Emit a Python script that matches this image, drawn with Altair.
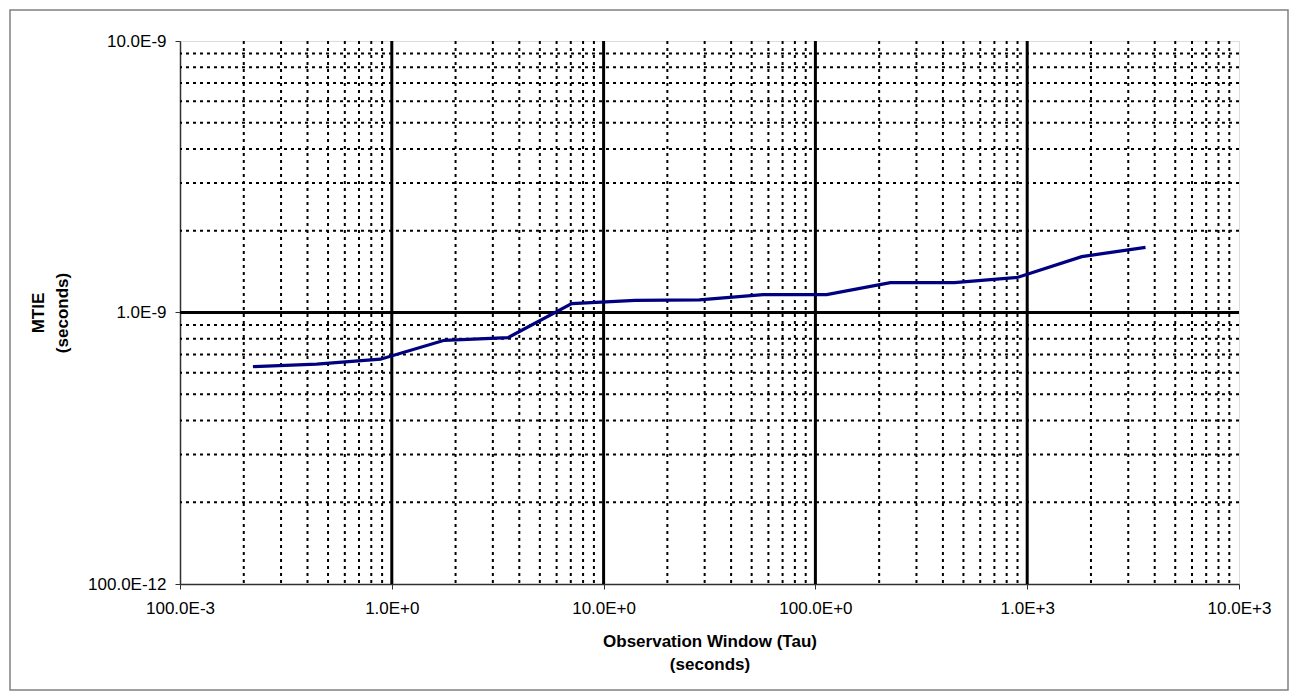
import json
import altair as alt
import pandas as pd

# ---- data ----
tau_s = [0.221, 0.442, 0.884, 1.77, 3.54, 7.07, 14.1, 28.3, 56.6, 113, 226, 453, 905, 1810, 3620]
mtie_ns = [0.632, 0.645, 0.673, 0.790, 0.808, 1.078, 1.108, 1.113, 1.163, 1.163,
           1.288, 1.288, 1.348, 1.606, 1.738]

x_decades = [0.1, 1, 10, 100, 1000, 10000]
y_decades = [1e-10, 1e-9, 1e-8]
x_labels = ["100.0E-3", "1.0E+0", "10.0E+0", "100.0E+0", "1.0E+3", "10.0E+3"]
y_labels = ["100.0E-12", "1.0E-9", "10.0E-9"]
minor_mult = [2, 3, 4, 5, 6, 7, 8, 9]

x_major_grid = [1, 10, 100, 1000]
y_major_grid = [1e-9]

# ---- tables ----
line_df = pd.DataFrame({"tau": tau_s, "mtie": [v * 1e-9 for v in mtie_ns]})
xminor_df = pd.DataFrame({"tau": [m * d for d in x_decades[:-1] for m in minor_mult]})
yminor_df = pd.DataFrame({"mtie": [m * d for d in y_decades[:-1] for m in minor_mult]})
xmajor_df = pd.DataFrame({"tau": x_major_grid})
ymajor_df = pd.DataFrame({"mtie": y_major_grid})

FONT = "Liberation Sans"
W, H = 1059, 543

xscale = alt.Scale(type="log", domain=[x_decades[0], x_decades[-1]], nice=False)
yscale = alt.Scale(type="log", domain=[y_decades[0], y_decades[-1]], nice=False)

xaxis = alt.Axis(
    values=x_decades,
    labelExpr=f"{json.dumps(x_labels)}[round(log(datum.value)/LN10)+1]",
    grid=False, tickSize=5, labelPadding=11, tickColor="#303030",
    domainColor="#303030", domainWidth=1.5, labelFontSize=17, labelFont=FONT,
    labelColor="black", titleFont=FONT, titleFontSize=17, titleFontWeight="bold",
    titleColor="black", titlePadding=17, titleLineHeight=23, labelFlush=False,
)
yaxis = alt.Axis(
    values=y_decades,
    labelExpr=f"{json.dumps(y_labels)}[round(log(datum.value)/LN10)+10]",
    grid=False, tickSize=5, labelPadding=9, tickColor="#303030",
    domainColor="#303030", domainWidth=1.5, labelFontSize=17, labelFont=FONT,
    labelColor="black", titleFont=FONT, titleFontSize=17, titleFontWeight="bold",
    titleColor="black", titlePadding=16, titleLineHeight=24, labelFlush=False,
)

X_TITLE = ["Observation Window (Tau)", "(seconds)"]
Y_TITLE = ["MTIE", "(seconds)"]


def xenc():
    return alt.X("tau:Q", scale=xscale, axis=xaxis, title=X_TITLE)


def yenc():
    return alt.Y("mtie:Q", scale=yscale, axis=yaxis, title=Y_TITLE)


xminor = alt.Chart(xminor_df).mark_rule(color="black", strokeWidth=2, strokeDash=[3, 4]).encode(x=xenc())
yminor = alt.Chart(yminor_df).mark_rule(color="black", strokeWidth=2, strokeDash=[3, 4]).encode(y=yenc())
xmajor = alt.Chart(xmajor_df).mark_rule(color="black", strokeWidth=3).encode(x=xenc())
ymajor = alt.Chart(ymajor_df).mark_rule(color="black", strokeWidth=3).encode(y=yenc())
line = alt.Chart(line_df).mark_line(color="#000080", strokeWidth=3.2).encode(x=xenc(), y=yenc())

frame = alt.Chart(alt.Data(values=[{"a": 1}])).mark_rect(
    fill=None, stroke="#808080", strokeWidth=1.5
).encode(
    x=alt.value(-170), x2=alt.value(W + 49),
    y=alt.value(-31), y2=alt.value(H + 106),
)

chart = alt.layer(xminor, yminor, xmajor, ymajor, line, frame).properties(
    width=W, height=H,
    autosize=alt.AutoSizeParams(type="none"),
    padding={"left": 172, "top": 33, "right": 51, "bottom": 108},
).configure_view(stroke="#808080", strokeWidth=1.5).configure(background="white")

chart.save("out.html", embed_options={"renderer": "svg", "actions": False})
